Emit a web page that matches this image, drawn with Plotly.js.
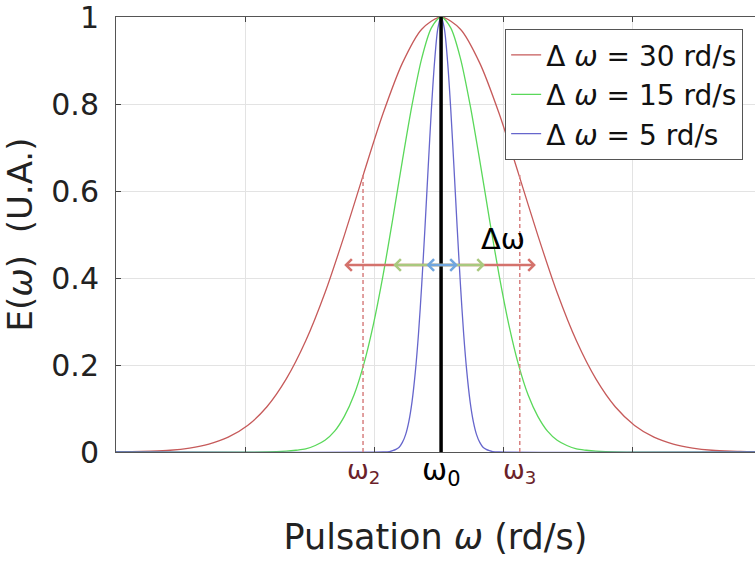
<!DOCTYPE html>
<html>
<head>
<meta charset="utf-8">
<script src="https://cdn.plot.ly/plotly-3.0.1.min.js"></script>
<style>html,body{margin:0;padding:0;background:#fff;}#chart{width:755px;height:563px;}</style>
</head>
<body>
<div id="chart"></div>
<script>
// ---- data ----
const seriesNames = ['Δ <i>ω</i> = 30 rd/s', 'Δ <i>ω</i> = 15 rd/s', 'Δ <i>ω</i> = 5 rd/s'];

const omegaRed = [-0.4, 2, 5, 8, 11, 14, 17, 20, 23, 26, 29, 32, 35, 38, 41, 44, 47, 50,
  53, 56, 59, 62, 65, 68, 71, 74, 77, 80, 83, 86, 89, 92, 95, 98, 98.67];
const eRed = [0, 0.001, 0.002, 0.004, 0.009, 0.018, 0.034, 0.061, 0.104, 0.168, 0.255, 0.366, 0.498, 0.640, 0.778, 0.894, 0.972, 1,
  0.972, 0.894, 0.778, 0.640, 0.498, 0.366, 0.255, 0.168, 0.104, 0.061, 0.034, 0.018, 0.009, 0.004, 0.002, 0.001, 0];

const omegaGreen = [-0.4, 23, 26, 27.5, 29, 30.5, 32, 33.5, 35, 36.5, 38, 39.5, 41, 42.5, 44, 45.5, 47, 48.5, 50,
  51.5, 53, 54.5, 56, 57.5, 59, 60.5, 62, 63.5, 65, 66.5, 68, 69.5, 71, 72.5, 74, 77, 98.67];
const eGreen = [0, 0, 0.002, 0.004, 0.007, 0.015, 0.027, 0.048, 0.082, 0.131, 0.201, 0.293, 0.406, 0.535, 0.670, 0.798, 0.905, 0.975, 1,
  0.975, 0.905, 0.798, 0.670, 0.535, 0.406, 0.293, 0.201, 0.131, 0.082, 0.048, 0.027, 0.015, 0.007, 0.004, 0.002, 0, 0];

const omegaBlue = [-0.4, 41, 42, 42.5, 43, 43.5, 44, 44.5, 45, 45.5, 46, 46.5, 47, 47.5, 48, 48.5, 49, 49.5, 50,
  50.5, 51, 51.5, 52, 52.5, 53, 53.5, 54, 54.5, 55, 55.5, 56, 56.5, 57, 57.5, 58, 59, 98.67];
const eBlue = [0, 0, 0.001, 0.003, 0.006, 0.011, 0.022, 0.040, 0.070, 0.116, 0.183, 0.272, 0.385, 0.515, 0.654, 0.788, 0.899, 0.974, 1,
  0.974, 0.899, 0.788, 0.654, 0.515, 0.385, 0.272, 0.183, 0.116, 0.070, 0.040, 0.022, 0.011, 0.006, 0.003, 0.001, 0, 0];

const omega0 = 50;
const omegaMarks = [37.9, 62.2];          // ω2, ω3
const omegaMarkHeight = [0.64, 0.64];
const markLabels = ['ω<sub>2</sub>', 'ω<sub>0</sub>', 'ω<sub>3</sub>'];
const arrowY = 0.43;
const arrowLeft = [34.75, 42.35, 47.5];
const arrowRight = [64.7, 56.8, 52.6];
const yTicks = [0, 0.2, 0.4, 0.6, 0.8, 1];
const yTickText = ['0', '0.2', '0.4', '0.6', '0.8', '1'];
const deltaLabelPos = [59.6, 0.49];

// ---- styles ----
const curveColors = ['#c65a5a', '#5ad85a', '#6666cc'];
const arrowColors = ['#d4726c', '#a9c97e', '#71a6de'];
const markColor = '#6b1f2a';
const FONT = 'DejaVu Sans, Liberation Sans, Arial, sans-serif';

const traces = [];
[[omegaRed, eRed], [omegaGreen, eGreen], [omegaBlue, eBlue]].forEach((s, i) => {
  traces.push({x: s[0], y: s[1], type: 'scatter', mode: 'lines', name: seriesNames[i],
    line: {color: curveColors[i], width: 1.3, shape: 'spline', smoothing: 0.8}, cliponaxis: true});
});
// dashed markers at ω2, ω3
omegaMarks.forEach((w, i) => {
  traces.push({x: [w, w], y: [0, omegaMarkHeight[i]], type: 'scatter', mode: 'lines', showlegend: false,
    line: {color: '#d88080', width: 1.5, dash: '4px,3px'}});
});
// ω0 line
traces.push({x: [omega0, omega0], y: [0, 1], type: 'scatter', mode: 'lines', showlegend: false,
  line: {color: '#000', width: 3.5}});

const annotations = [];
arrowLeft.forEach((l, i) => {
  annotations.push({x: arrowRight[i], y: arrowY, ax: l, ay: arrowY, xref: 'x', yref: 'y', axref: 'x', ayref: 'y',
    text: '', showarrow: true, arrowhead: 4, startarrowhead: 4, arrowside: 'end+start',
    arrowsize: 0.9, startarrowsize: 0.9, arrowwidth: 2.5, arrowcolor: arrowColors[i], standoff: 0, startstandoff: 0});
});
const markX = [omegaMarks[0], omega0, omegaMarks[1]];
markLabels.forEach((t, i) => {
  annotations.push({x: markX[i], y: -0.045, xref: 'x', yref: 'paper', text: t, showarrow: false,
    xanchor: 'center', yanchor: 'middle',
    font: {family: FONT, size: i === 1 ? 30 : 26, color: i === 1 ? '#000' : markColor}});
});
annotations.push({x: deltaLabelPos[0], y: deltaLabelPos[1], xref: 'x', yref: 'y', text: 'Δω', showarrow: false,
  xanchor: 'center', yanchor: 'middle', font: {family: FONT, size: 29, color: '#000'}});

const layout = {
  width: 755, height: 563,
  margin: {l: 116, r: 0, t: 17, b: 111, pad: 0},
  paper_bgcolor: '#fff', plot_bgcolor: '#fff',
  font: {family: FONT, color: '#222'},
  showlegend: true,
  legend: {x: 0.609, y: 0.972, xanchor: 'left', yanchor: 'top', bgcolor: '#fff',
    bordercolor: '#555', borderwidth: 1, font: {family: FONT, size: 28, color: '#111'},
    tracegroupgap: 0, itemwidth: 30},
  xaxis: {range: [-0.4, 98.67], tickmode: 'linear', tick0: -0.4, dtick: 20, showticklabels: false,
    ticks: 'inside', ticklen: 5, tickcolor: '#444', showgrid: true, gridcolor: '#e3e3e3', gridwidth: 1,
    showline: true, linecolor: '#555', linewidth: 1, mirror: 'ticks', zeroline: false, fixedrange: true,
    title: {text: 'Pulsation <i>ω</i> (rd/s)', font: {family: FONT, size: 35, color: '#222'}, standoff: 72}},
  yaxis: {range: [0, 1], tickvals: yTicks, ticktext: yTickText, ticks: 'inside', ticklen: 5, tickcolor: '#444',
    showgrid: true, gridcolor: '#e3e3e3', gridwidth: 1, showline: true, linecolor: '#555', linewidth: 1,
    zeroline: false, fixedrange: true, ticklabelstandoff: 10, ticklabeloverflow: 'allow',
    tickfont: {family: FONT, size: 30, color: '#222'},
    title: {text: 'E(<i>ω</i>)\u00a0\u00a0(U.A.)', font: {family: FONT, size: 34, color: '#222'}, standoff: 8}},
  annotations: annotations
};

Plotly.newPlot('chart', traces, layout, {displayModeBar: false, staticPlot: true});
</script>
</body>
</html>
